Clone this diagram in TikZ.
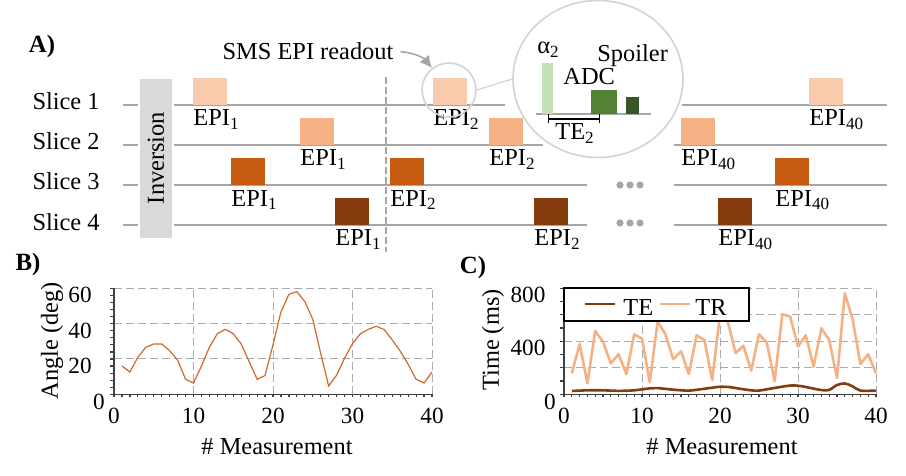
\documentclass[tikz,border=0pt]{standalone}
\usepackage{fontspec}
\setmainfont{Liberation Serif}
\usetikzlibrary{arrows.meta,shapes.geometric}
\definecolor{peach}{HTML}{F8CBAD}
\definecolor{apricot}{HTML}{F4B183}
\definecolor{rust}{HTML}{C55A11}
\definecolor{umber}{HTML}{843C0C}
\definecolor{leaf}{HTML}{C5E0B4}
\definecolor{moss}{HTML}{548235}
\definecolor{forest}{HTML}{375623}
\definecolor{invgray}{HTML}{D9D9D9}
\definecolor{linegray}{HTML}{A6A6A6}
\definecolor{lensgray}{HTML}{D3D3D3}
\definecolor{gridgray}{HTML}{ABABAB}
\definecolor{axisgray}{HTML}{404040}
\definecolor{flipcol}{HTML}{D2692A}
\newcommand{\epilbl}[1]{EPI\textsubscript{#1}}
\tikzset{sliceln/.style={draw=linegray,line width=0.6pt},
  epitxt/.style={anchor=base west,inner sep=0pt},
  lens/.style={draw=lensgray,line width=0.8pt,inner sep=0pt},
  gridln/.style={draw=gridgray,line width=0.5pt,dash pattern=on 4pt off 2pt},
  axisln/.style={draw=axisgray,line width=0.6pt},
  ticklbl/.style={font=\fontsize{11.6}{13}\selectfont,inner sep=0pt},
  panel/.style={font=\fontsize{12.4}{14}\selectfont\bfseries}}

\begin{document}
\begin{tikzpicture}[x=0.5pt,y=-0.5pt,font=\fontsize{12.2}{14}\selectfont]
\useasboundingbox (0,0) rectangle (906,476);
\node[panel] (pa) at (42,47) {A)}; \node[panel] (pb) at (28,265) {B)}; \node[panel] (pc) at (473,268) {C)};

\foreach \y/\n/\a/\b in {105/1/505/682,145/2/543/674,185/3/587/674,225/4/587/674}{
  \node[anchor=base east,inner sep=0pt] (slice\n) at (100,\y+5) {Slice \n};
  \draw[sliceln] (123,\y) -- (138,\y) (174,\y) -- (\a,\y) (\b,\y) -- (887,\y);
}
\fill[invgray] (140,79) rectangle (172,238);
\node[rotate=90] (inv) at (156,158) {Inversion};
\draw[linegray,line width=0.8pt,dash pattern=on 3.5pt off 1.5pt] (386,77) -- (386,252);

\foreach \x/\y/\col/\k in {193/105/peach/1,300/145/apricot/1,231/185/rust/1,335/225/umber/1,
  433/105/peach/2,489/145/apricot/2,390/185/rust/2,534/225/umber/2,
  809/105/peach/40,681/145/apricot/40,775/185/rust/40,718/225/umber/40}{
  \fill[\col] (\x,\y) rectangle +(34,-27);
  \node[epitxt] (epi-\x-\y) at (\x,\y+21) {\epilbl{\k}};
}
\foreach \y in {185,223} \foreach \x in {620,630,640} \fill[linegray] (\x,\y) circle (1.8pt);

\node[anchor=base] (readout) at (308,60) {SMS EPI readout};
\node[lens,circle,minimum size=27pt] (zoomc) at (449,90) {};
\node[lens,ellipse,fill=white,minimum width=85pt,minimum height=78.5pt] (bigc) at (598,79) {};
\draw[lensgray,line width=0.6pt] (zoomc.east) -- (bigc.west);
\draw[-{Latex[length=6pt,width=6pt]},linegray,line width=0.8pt] (readout.east) .. controls +(14,1) and +(-8,-10) .. (zoomc.128);

\draw[sliceln] (536,114) -- (651,114);
\fill[leaf] (542,114) rectangle (553,63); \fill[moss] (591,114) rectangle (617,90); \fill[forest] (626,114) rectangle (639,97);
\node[epitxt] (alpha) at (537,54) {α\textsubscript{2}};
\node[epitxt] (adc) at (563,85) {ADC};
\node[epitxt] (spoil) at (597,62) {Spoiler};
\draw[{Bar[width=4.5pt]}-{Bar[width=4.5pt]},line width=0.6pt] (548,119) -- (600,119);
\node[epitxt] (te) at (555,140) {TE\textsubscript{2}};

\coordinate (borig) at (114,394.3);
\begin{scope}[shift={(borig)},x=3.975pt,y=0.8833pt]
\foreach \v in {20,40,60} \draw[gridln] (0,\v) -- (40,\v);
\foreach \u in {10,20,30,40} \draw[gridln] (\u,0) -- (\u,60);
\foreach \v in {0,4,...,60} \draw[axisln] (0,\v) -- ++(-2pt,0);
\foreach \u in {0,...,40} \draw[axisln] (\u,0) -- ++(0,-1.5pt);
\draw[axisln] (0,60) -- (0,0) -- (40,0);
\foreach \v in {20,40,60} \node[ticklbl,xshift=-17pt,yshift=-3.5pt] (by\v) at (0,\v) {\v};
\node[ticklbl,xshift=-7.5pt,yshift=-3.8pt] (by0) at (0,0) {0};
\foreach \u in {0,10,20,30,40} \node[ticklbl,yshift=-11pt] (bx\u) at (\u,0) {\u};
\draw[flipcol,line width=0.6pt] plot coordinates {(1,16) (2,12.6) (3,21) (4,26.6) (5,28.5) (6,28.5) (7,24.7) (8,19.4) (9,8.5) (10,6.4)
  (11,16) (12,26.6) (13,34.3) (14,36.8) (15,34.3) (16,28.5) (17,18.5) (18,8.5) (19,10.6) (20,28)
  (21,46.6) (22,56.6) (23,58.1) (24,52.5) (25,42.5) (26,23.2) (27,4.7) (28,10.8) (29,20.4) (30,28.7)
  (31,34.3) (32,36.8) (33,38.5) (34,36.6) (35,30.8) (36,24.5) (37,17) (38,8.5) (39,6.4) (40,12.6)};
\end{scope}
\node (bxlab) at (277,447) {\# Measurement};
\node[rotate=90] (bylab) at (52,341) {Angle (deg)};

\coordinate (corig) at (564,394.3);
\begin{scope}[shift={(corig)},x=3.9pt,y=0.06625pt]
\foreach \v in {200,400,600,800} \draw[gridln] (0,\v) -- (40,\v);
\foreach \u in {10,20,30,40} \draw[gridln] (\u,0) -- (\u,800);
\foreach \v in {0,100,...,800} \draw[axisln] (0,\v) -- ++(-2pt,0);
\foreach \u in {0,...,40} \draw[axisln] (\u,0) -- ++(0,-1.5pt);
\draw[axisln] (0,800) -- (0,0) -- (40,0);
\foreach \v in {400,800} \node[ticklbl,xshift=-18pt,yshift=-3.5pt] (cy\v) at (0,\v) {\v};
\node[ticklbl,xshift=-7pt,yshift=-3.8pt] (cy0) at (0,0) {0};
\foreach \u in {0,10,20,30,40} \node[ticklbl,yshift=-11pt] (cx\u) at (\u,0) {\u};
\draw[apricot,line width=1.3pt,line join=round] plot coordinates {(1,158) (2,380) (3,83) (4,478) (5,397) (6,234) (7,302) (8,153) (9,453) (10,420)
  (11,91) (12,548) (13,455) (14,264) (15,325) (16,153) (17,445) (18,410) (19,108) (20,600)
  (21,548) (22,310) (23,367) (24,179) (25,453) (26,390) (27,100) (28,604) (29,586) (30,360)
  (31,445) (32,209) (33,498) (34,410) (35,123) (36,762) (37,566) (38,229) (39,302) (40,158)};
\draw[umber,line width=1.3pt] plot[smooth] coordinates {(1,25) (3,30) (5,30) (7,26) (9,30) (11,45) (12,47) (14,35) (16,28)
  (18,42) (20,57) (21,56) (23,38) (24,30) (25,28) (27,48) (29,66) (30,65) (31,55) (33,32) (34,33)
  (35,70) (36,82) (37,60) (38,28) (40,28)};
\end{scope}
\node[draw=black,fill=white,line width=0.6pt,minimum width=92.5pt,minimum height=16.5pt,inner sep=0pt] (legbox) at (656.5,304.5) {};
\draw[umber,line width=1.3pt] (585,304) -- (615,304);
\node[epitxt] (legte) at (623,315) {TE};
\draw[apricot,line width=1.3pt] (660,304) -- (690,304);
\node[epitxt] (legtr) at (695,315) {TR};
\node (cxlab) at (722,447) {\# Measurement};
\node[rotate=90] (cylab) at (493,340) {Time (ms)};
\end{tikzpicture}
\end{document}
